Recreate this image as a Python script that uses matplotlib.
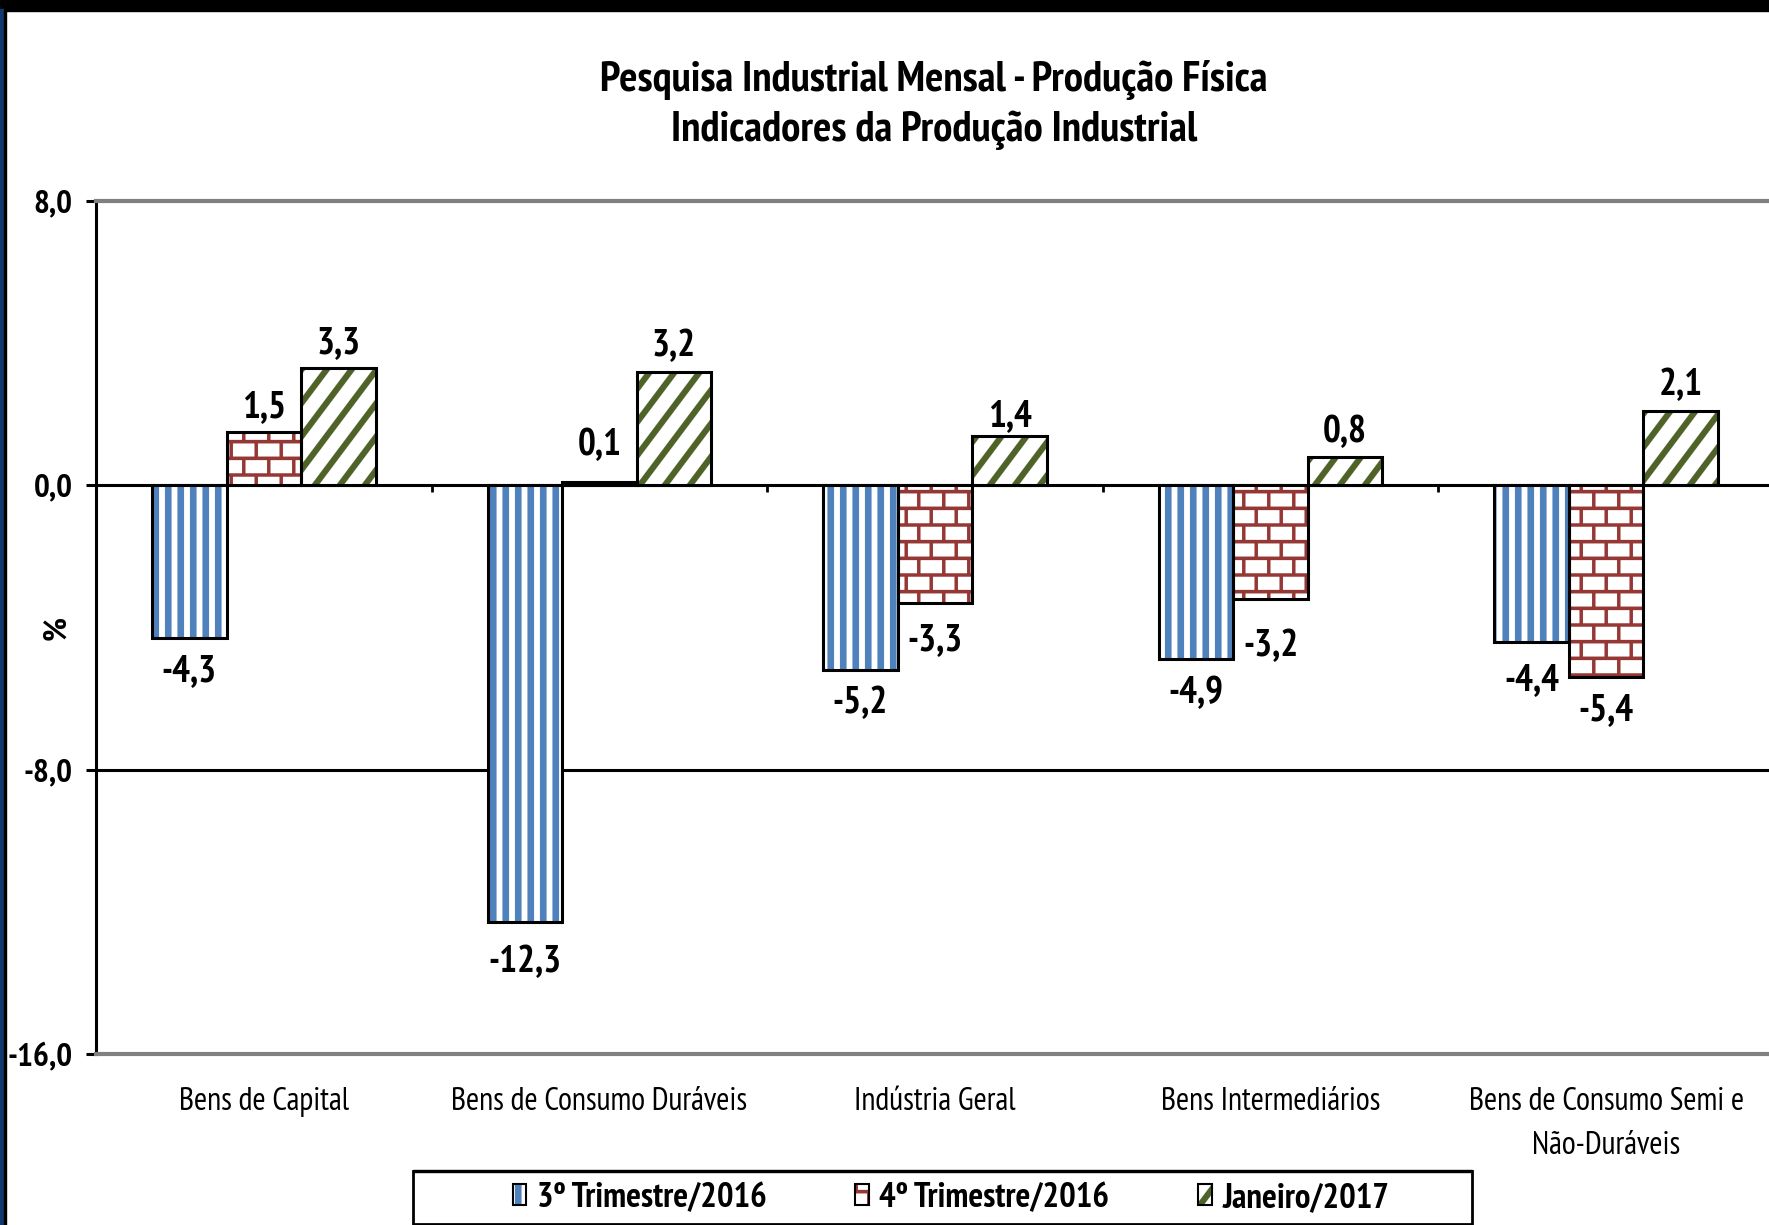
import numpy as np
import matplotlib
matplotlib.use("Agg")
import matplotlib.pyplot as plt
import matplotlib.hatch as mhatch
from matplotlib.path import Path
from matplotlib.patches import Patch, Rectangle
from matplotlib import font_manager as fm

# ---------------- data ----------------
categories = ["Bens de Capital", "Bens de Consumo Duráveis", "Indústria Geral",
              "Bens Intermediários", "Bens de Consumo Semi e\nNão-Duráveis"]
series_names = ["3º Trimestre/2016", "4º Trimestre/2016", "Janeiro/2017"]
tri3_2016 = [-4.3, -12.3, -5.2, -4.9, -4.4]
tri4_2016 = [1.5, 0.1, -3.3, -3.2, -5.4]
jan_2017 = [3.3, 3.2, 1.4, 0.8, 2.1]
yticks = [8.0, 0.0, -8.0, -16.0]
ytick_labels = ["8,0", "0,0", "-8,0", "-16,0"]

# ---------------- custom hatch patterns (filled polygons in unit tile) ----------------
def _rects_path(rects):
    verts, codes = [], []
    for (x0, y0, x1, y1) in rects:
        verts += [(x0, y0), (x1, y0), (x1, y1), (x0, y1), (x0, y0)]
        codes += [Path.MOVETO, Path.LINETO, Path.LINETO, Path.LINETO, Path.CLOSEPOLY]
    return Path(np.array(verts, float), np.array(codes, Path.code_type))

def _polys_path(polys):
    verts, codes = [], []
    for p in polys:
        verts += list(p) + [p[0]]
        codes += [Path.MOVETO] + [Path.LINETO] * (len(p) - 1) + [Path.CLOSEPOLY]
    return Path(np.array(verts, float), np.array(codes, Path.code_type))

def vertical_stripes(n=8, frac=0.52):
    return _rects_path([((k + 0.2) / n, -0.01, (k + 0.2 + frac) / n, 1.01) for k in range(n)])

def bricks(rows=6, cols=4, t=0.034):
    rects = []
    for r in range(rows):
        yc = (r + 0.5) / rows
        rects.append((-0.01, yc - t / 2, 1.01, yc + t / 2))
    for r in range(-1, rows):
        y0 = (r + 0.5) / rows + t / 2
        y1 = (r + 1.5) / rows - t / 2
        off = 0.25 + 0.5 * (r % 2)
        for c in range(cols):
            xc = (c + off) / cols
            rects.append((xc - t / 2, y0, xc + t / 2, y1))
    return _rects_path(rects)

def diagonal_stripes(n=4, m=3, w=0.075):
    dx = m / n
    polys = []
    for k in range(-2 * n, 2 * n + 1):
        c = k / n
        polys.append([(c, 0.0), (c + w, 0.0), (c + w + dx, 1.0), (c + dx, 1.0)])
    return _polys_path(polys)

_CUSTOM = {"||": vertical_stripes(), "++": bricks(), "//": diagonal_stripes()}
_orig_get_path = mhatch.get_path
def _get_path(hatchpattern, density=6):
    if hatchpattern in _CUSTOM:
        return _CUSTOM[hatchpattern]
    return _orig_get_path(hatchpattern, density)
mhatch.get_path = _get_path
plt.rcParams["hatch.linewidth"] = 0.1

# ---------------- fonts ----------------
FONT = "PT Sans Narrow"
plt.rcParams["font.family"] = [FONT, "DejaVu Sans"]

# ---------------- figure ----------------
W, H = 1769, 1225
fig = plt.figure(figsize=(W / 100, H / 100), dpi=100)
ax = fig.add_axes([96 / W, 1 - 1054 / H, (1774 - 96) / W, (1054 - 201) / H])

colors = ["#4F81BD", "#953735", "#4F6228"]
hatches = ["||", "++", "//"]
series = [tri3_2016, tri4_2016, jan_2017]
x = np.arange(len(categories))
bw = 0.222
label_pad = 21      # points from bar end to label centre
label_shift = -3.2  # points, moves all labels slightly down
# small manual nudges (points, away from the bar) as in the source chart
nudges = {(1, 1): 8, (0, 1): 5, (1, 3): 10, (2, 2): -4, (0, 4): 4, (1, 2): 3}
for i, (vals, col, hat) in enumerate(zip(series, colors, hatches)):
    xs = x + (i - 1) * bw
    ax.bar(xs, vals, bw, facecolor="white", edgecolor=col, hatch=hat, linewidth=0, zorder=3)
    ax.bar(xs, vals, bw, fill=False, edgecolor="black", linewidth=2.2, zorder=4)
    for j, (xx, v) in enumerate(zip(xs, vals)):
        lab = f"{v:.1f}".replace(".", ",")
        pad = label_pad + nudges.get((i, j), 0)
        dy = (pad if v >= 0 else -pad) + label_shift
        ax.annotate(lab, (xx, v), xytext=(0, dy), textcoords="offset points",
                    ha="center", va="center", fontsize=27, fontweight="bold", zorder=5)

ax.set_xlim(-0.5, len(categories) - 0.5)
ax.set_ylim(-16, 8)
ax.set_yticks(yticks)
ax.set_yticklabels(ytick_labels, fontsize=24, fontweight="bold")
ax.tick_params(axis="y", direction="out", length=7, width=2.2, pad=10)
ax.set_xticks(x)
ax.set_xticklabels(categories, fontsize=23, linespacing=1.6)
ax.tick_params(axis="x", length=0, pad=24)

ax.spines["right"].set_visible(False)
ax.spines["left"].set_color("black")
ax.spines["left"].set_linewidth(2.2)
for s in ("top", "bottom"):
    ax.spines[s].set_color("#808080")
    ax.spines[s].set_linewidth(3)
ax.axhline(0, color="black", linewidth=2.2, zorder=2)
ax.axhline(-8, color="black", linewidth=2.2, zorder=2)

sec = ax.secondary_xaxis(16 / 24)
sec.set_xticks(np.arange(0.5, len(categories) - 0.5, 1.0))
sec.set_xticklabels([])
sec.spines["bottom"].set_visible(False)
sec.spines["top"].set_visible(False)
sec.xaxis.set_ticks_position("bottom")
sec.tick_params(axis="x", direction="out", length=5, width=2, color="black")

ax.set_ylabel("%", fontsize=24, fontweight="bold")
ax.yaxis.set_label_coords((72 - 96) / (1774 - 96), 0.5)

fig.text(0.528, 1 - 91 / H, "Pesquisa Industrial Mensal - Produção Física",
         ha="center", va="baseline", fontsize=31, fontweight="bold")
fig.text(0.528, 1 - 141 / H, "Indicadores da Produção Industrial",
         ha="center", va="baseline", fontsize=31, fontweight="bold")

handles = [(Patch(facecolor="white", edgecolor=c, hatch=h, linewidth=0),
            Patch(fill=False, edgecolor="black", linewidth=1.5)) for c, h in zip(colors, hatches)]
leg = fig.legend(handles, series_names, loc="center", bbox_to_anchor=(0.5375, 1 - 1198 / H),
                 ncol=3, frameon=False,
                 prop=fm.FontProperties(family=FONT, weight="bold", size=25),
                 handlelength=0.4, handleheight=0.55, handletextpad=0.3, columnspacing=2.55,
                 borderpad=0.2)
# legend box
fig.patches.append(Rectangle((413 / W, 1 - 1224 / H), (1472 - 413) / W, (1224 - 1171) / H,
                             transform=fig.transFigure, facecolor="white", edgecolor="black",
                             linewidth=2, zorder=-1))
fig.patches.append(Rectangle((413 / W, 1 - 1172 / H), (1472 - 413) / W, 2 / H,
                             transform=fig.transFigure, color="black", zorder=-1))

# decorative border
fig.patches.append(Rectangle((0, 1 - 6 / H), 1, 6 / H, transform=fig.transFigure, color="black", zorder=0))
fig.patches.append(Rectangle((0, 1 - 11 / H), 1, 4 / H, transform=fig.transFigure, color="black", zorder=0))
fig.patches.append(Rectangle((0, 0), 4 / W, 1 - 9 / H, transform=fig.transFigure, color="#103A6E", zorder=0))
fig.patches.append(Rectangle((4 / W, 0), 2 / W, 1 - 9 / H, transform=fig.transFigure, color="black", zorder=0))

fig.savefig("out.png", dpi=100)
